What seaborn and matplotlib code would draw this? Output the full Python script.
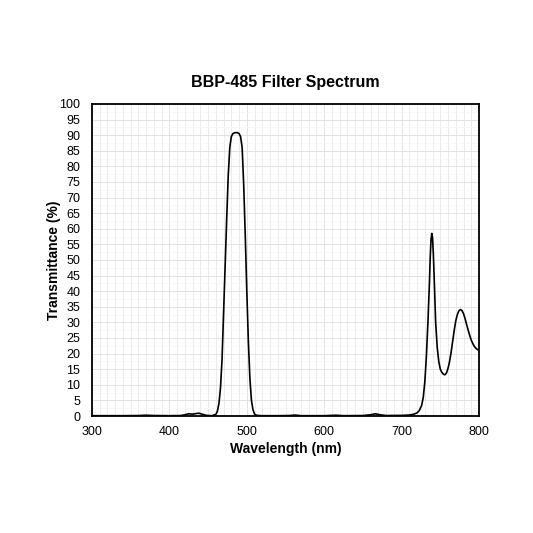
import matplotlib
matplotlib.use("Agg")
import matplotlib.pyplot as plt
import seaborn as sns
import pandas as pd
from matplotlib.ticker import MultipleLocator

wavelength = [300, 320, 340, 360, 370, 380, 400, 415, 420, 425, 430, 435, 438, 442, 448, 455,
              460, 462, 464, 466, 468, 470, 472, 474, 476, 478, 480, 482, 485, 488, 490, 492,
              494, 496, 498, 500, 502, 504, 506, 508, 510, 513, 520, 540, 555, 562, 570, 600,
              615, 625, 650, 660, 666, 672, 680, 700, 710, 716, 720, 723, 726, 728, 730, 732,
              734, 736, 737, 738, 739, 740, 741, 742, 744, 746, 748, 750, 752, 754, 756, 758,
              760, 762, 764, 766, 768, 770, 772, 774, 776, 778, 780, 782, 784, 786, 788, 790,
              792, 794, 796, 798, 800]
transmittance = [0.1, 0.1, 0.1, 0.15, 0.25, 0.15, 0.1, 0.15, 0.4, 0.7, 0.6, 0.8, 0.9, 0.6, 0.2, 0.1,
                 0.5, 1.5, 4.0, 9.0, 18.0, 33.0, 48.0, 63.0, 77.0, 86.0, 89.5, 90.5, 90.8, 90.8, 90.5, 89.5,
                 86.0, 74.0, 58.0, 40.0, 24.0, 12.0, 5.0, 2.0, 0.6, 0.2, 0.1, 0.1, 0.15, 0.3, 0.1, 0.1,
                 0.25, 0.1, 0.15, 0.4, 0.7, 0.4, 0.15, 0.2, 0.3, 0.6, 1.0, 1.8, 3.5, 6.0, 11.0, 19.0,
                 30.0, 43.0, 51.0, 56.5, 58.5, 57.0, 52.0, 45.0, 30.0, 22.0, 17.5, 15.0, 14.0, 13.4, 13.2, 13.8,
                 15.3, 17.5, 20.5, 24.0, 27.5, 30.5, 32.5, 33.7, 34.1, 33.8, 32.8, 31.2, 29.3, 27.5, 25.8, 24.3,
                 23.2, 22.3, 21.7, 21.3, 21.0]

df = pd.DataFrame({"Wavelength": wavelength, "Transmittance": transmittance})

sns.set_style("white")
plt.rcParams['font.family'] = ['Liberation Sans', 'DejaVu Sans']
plt.rcParams['text.color'] = 'black'
plt.rcParams['axes.labelcolor'] = 'black'

fig = plt.figure(figsize=(5.33, 5.33), dpi=100)
ax = fig.add_axes([0.1726, 0.2195, 0.7261, 0.5855])

sns.lineplot(data=df, x="Wavelength", y="Transmittance", ax=ax, color="black", linewidth=1.2)

ax.set_xlim(300, 800)
ax.set_ylim(0, 100)
ax.xaxis.set_major_locator(MultipleLocator(100))
ax.xaxis.set_minor_locator(MultipleLocator(10))
ax.yaxis.set_major_locator(MultipleLocator(5))
ax.yaxis.set_minor_locator(MultipleLocator(2.5))
ax.grid(which="major", axis="both", color="#e2e2e2", linewidth=0.7)
ax.grid(which="minor", axis="x", color="#e8e8e8", linewidth=0.6)
ax.grid(which="minor", axis="y", color="#f6f6f6", linewidth=0.5)
ax.set_axisbelow(True)
ax.tick_params(which="both", length=0, labelsize=9, colors="black")
ax.tick_params(axis="x", pad=7)
ax.tick_params(axis="y", pad=8.5)

for s in ax.spines.values():
    s.set_color("black")
    s.set_linewidth(1.3)

ax.set_xlabel("Wavelength (nm)", fontsize=10, fontweight="bold", labelpad=3, color="black")
ax.set_ylabel("Transmittance (%)", fontsize=10, fontweight="bold", labelpad=-1, color="black")
ax.set_title("BBP-485 Filter Spectrum", fontsize=11.5, fontweight="bold", pad=12, color="black")

fig.savefig("out.png", dpi=100, facecolor="white")
